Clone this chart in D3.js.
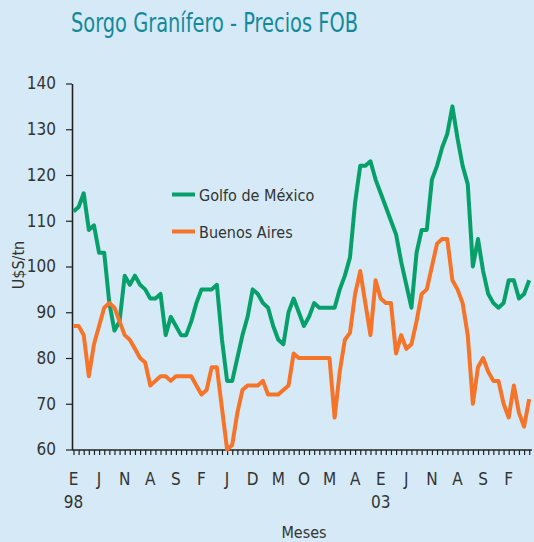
<!DOCTYPE html>
<html>
<head>
<meta charset="utf-8">
<script src="https://cdn.jsdelivr.net/npm/d3@7"></script>
<style>
  html, body { margin: 0; padding: 0; background: #d5eaf6; }
  svg { display: block; }
  text { font-family: "Liberation Sans Narrow", "DejaVu Sans Condensed", "Roboto", sans-serif; fill: #333; }
</style>
</head>
<body>
<div id="chart"></div>
<script>
// precios mensuales, enero 1998 a junio 2005 (U$S/tn)
const golfo = [112, 113, 116, 108, 109, 103, 103, 92, 86, 88,
  98, 96, 98, 96, 95, 93, 93, 94, 85, 89,
  87, 85, 85, 88, 92, 95, 95, 95, 96, 84,
  75, 75, 80, 85, 89, 95, 94, 92, 91, 87,
  84, 83, 90, 93, 90, 87, 89, 92, 91, 91,
  91, 91, 95, 98, 102, 114, 122, 122, 123, 119,
  116, 113, 110, 107, 101, 96, 91, 103, 108, 108,
  119, 122, 126, 129, 135, 128, 122, 118, 100, 106,
  99, 94, 92, 91, 92, 97, 97, 93, 94, 97];

const buenosAires = [87, 87, 85, 76, 83, 87, 91, 92, 91, 88,
  85, 84, 82, 80, 79, 74, 75, 76, 76, 75,
  76, 76, 76, 76, 74, 72, 73, 78, 78, 69,
  60, 61, 68, 73, 74, 74, 74, 75, 72, 72,
  72, 73, 74, 81, 80, 80, 80, 80, 80, 80,
  80, 67, 77, 84, 85.5, 94, 99, 92, 85, 97,
  93, 92, 92, 81, 85, 82, 83, 88, 94, 95,
  100, 105, 106, 106, 97, 95, 92, 85, 70, 78,
  80, 77, 75, 75, 70, 67, 74, 68, 65, 71];

const monthLabels = ['E', 'J', 'N', 'A', 'S', 'F', 'J', 'D', 'M', 'O', 'M', 'A', 'E', 'J', 'N', 'A', 'S', 'F'];
const yearLabels = [{ i: 0, text: '98' }, { i: 60, text: '03' }];
const yTicks = [60, 70, 80, 90, 100, 110, 120, 130, 140];

const series = [
  { name: 'Golfo de México', values: golfo, color: '#07a06a' },
  { name: 'Buenos Aires', values: buenosAires, color: '#f5742a' }
];

const width = 534;
const height = 542;

const svg = d3.select('#chart')
  .append('svg')
  .attr('width', width)
  .attr('height', height);

svg.append('rect')
  .attr('width', width)
  .attr('height', height)
  .attr('fill', '#d5eaf6');

const x = d3.scaleLinear()
  .domain([0, golfo.length - 1])
  .range([73.5, 529.2]);

const y = d3.scaleLinear()
  .domain([60, 140])
  .range([449.5, 83.5]);

// titulo, angosto como en el original
svg.append('text')
  .attr('x', 71)
  .attr('y', 32)
  .attr('font-size', 26)
  .attr('textLength', 287)
  .attr('lengthAdjust', 'spacingAndGlyphs')
  .style('fill', '#14899b')
  .text('Sorgo Granífero - Precios FOB');

// eje y
const yAxis = svg.append('g')
  .attr('transform', 'translate(72,0)')
  .call(d3.axisLeft(y).tickValues(yTicks).tickSizeInner(6).tickSizeOuter(0).tickPadding(10));

// eje x, una marca por mes
const xAxis = svg.append('g')
  .attr('transform', 'translate(0,450)')
  .call(d3.axisBottom(x).tickValues(d3.range(golfo.length)).tickSize(5).tickSizeOuter(0).tickFormat(''));

xAxis.select('.domain').attr('d', 'M72,0H532');

[yAxis, xAxis].forEach(g => {
  g.select('.domain').attr('stroke', '#222').attr('stroke-width', 1.6);
  g.selectAll('.tick line').attr('stroke', '#222').attr('stroke-width', 1.2);
  g.selectAll('.tick text').attr('font-size', 17).style('fill', '#333');
});

svg.selectAll('.month')
  .data(monthLabels)
  .enter()
  .append('text')
  .attr('class', 'month')
  .attr('x', (d, i) => x(i * 5))
  .attr('y', 485)
  .attr('text-anchor', 'middle')
  .attr('font-size', 17)
  .text(d => d);

svg.selectAll('.year')
  .data(yearLabels)
  .enter()
  .append('text')
  .attr('class', 'year')
  .attr('x', d => x(d.i))
  .attr('y', 508)
  .attr('text-anchor', 'middle')
  .attr('font-size', 17)
  .text(d => d.text);

svg.append('text')
  .attr('x', 304)
  .attr('y', 538)
  .attr('text-anchor', 'middle')
  .attr('font-size', 16)
  .text('Meses');

svg.append('text')
  .attr('transform', 'translate(24,265) rotate(-90)')
  .attr('text-anchor', 'middle')
  .attr('font-size', 16)
  .text('U$S/tn');

// lineas
const line = d3.line()
  .x((d, i) => x(i))
  .y(d => y(d));

svg.selectAll('.serie')
  .data(series)
  .enter()
  .append('path')
  .attr('class', 'serie')
  .attr('d', d => line(d.values))
  .attr('fill', 'none')
  .attr('stroke', d => d.color)
  .attr('stroke-width', 4)
  .attr('stroke-linejoin', 'round');

// leyenda
const legend = svg.selectAll('.legend')
  .data(series)
  .enter()
  .append('g')
  .attr('class', 'legend')
  .attr('transform', (d, i) => `translate(172, ${194.5 + i * 37})`);

legend.append('line')
  .attr('x1', 0)
  .attr('x2', 23)
  .attr('stroke', d => d.color)
  .attr('stroke-width', 4);

legend.append('text')
  .attr('x', 27)
  .attr('y', 6)
  .attr('font-size', 16)
  .text(d => d.name);
</script>
</body>
</html>
